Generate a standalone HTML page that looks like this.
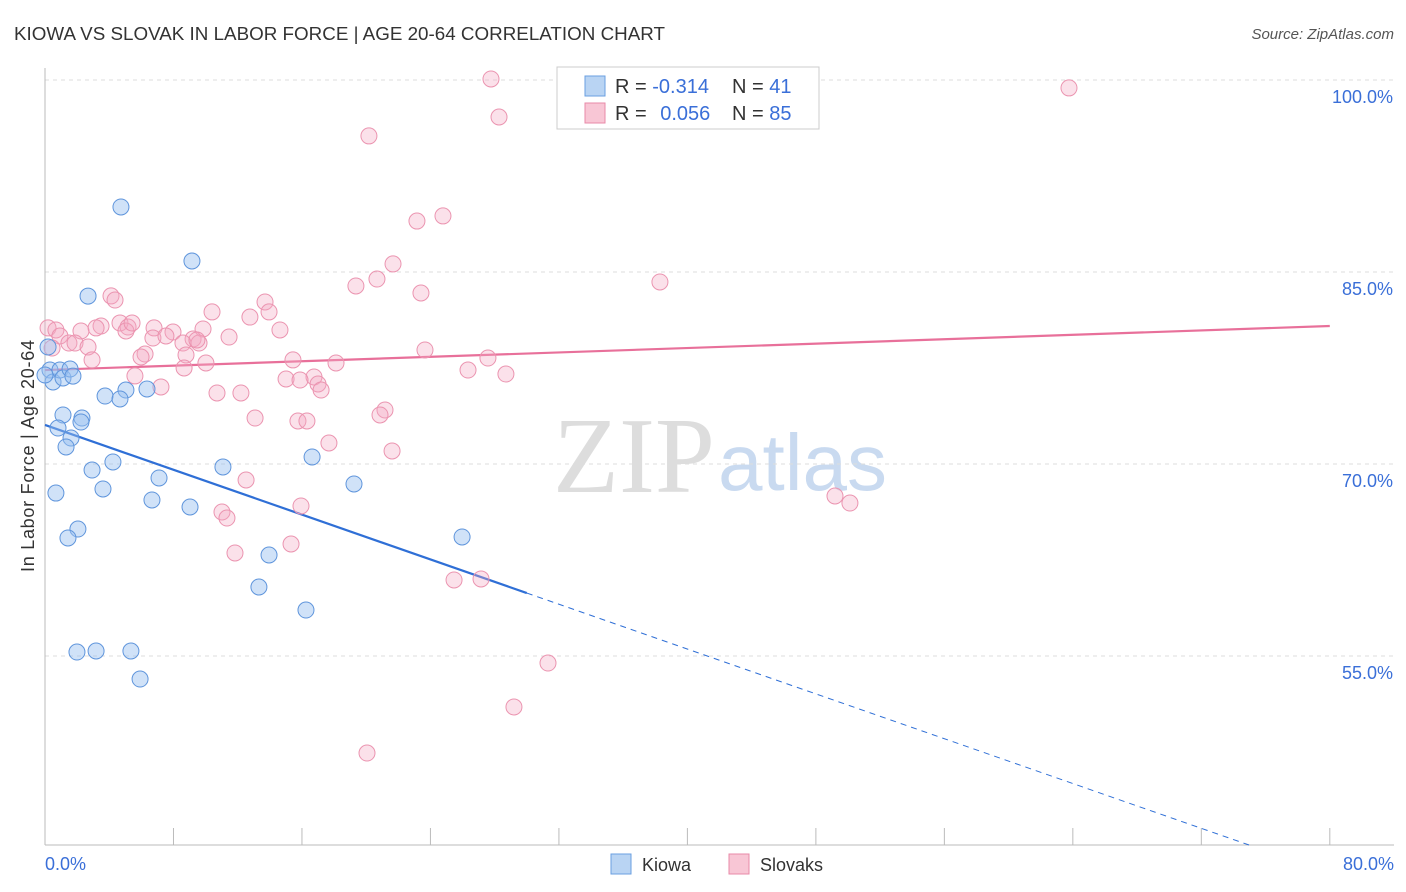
<!DOCTYPE html>
<html><head><meta charset="utf-8">
<style>
body{margin:0;background:#fff;font-family:"Liberation Sans",sans-serif;}
svg{display:block}
</style></head>
<body>
<svg id="chart" width="1406" height="892">
<text x="14" y="40" font-size="18" fill="#333" textLength="651" lengthAdjust="spacingAndGlyphs">KIOWA VS SLOVAK IN LABOR FORCE | AGE 20-64 CORRELATION CHART</text>
<text x="1394" y="39" font-size="15" fill="#555" font-style="italic" text-anchor="end">Source: ZipAtlas.com</text>
<text x="715" y="492" font-size="108" fill="#ddd" font-family="Liberation Serif,serif" text-anchor="end">ZIP</text>
<text x="718" y="490" font-size="80" fill="#c9daf0">atlas</text>
<text transform="translate(34,456) rotate(-90)" font-size="18" fill="#333" text-anchor="middle" textLength="232">In Labor Force | Age 20-64</text>
<g id="grid"></g><g id="axes"></g><g id="lines"></g><g id="pts"></g>
<g>
<rect x="557" y="67" width="262" height="62" fill="#fff" stroke="#ccc"/>
<rect x="585" y="76" width="20" height="20" fill="#b9d4f3" stroke="#6a9fe0"/>
<rect x="585" y="103" width="20" height="20" fill="#f8c6d5" stroke="#e88aa8"/>
<text x="615" y="93" font-size="20" fill="#333">R = <tspan fill="#3a6fd8">-0.314</tspan><tspan x="732">N = </tspan><tspan fill="#3a6fd8">41</tspan></text>
<text x="615" y="120" font-size="20" fill="#333">R = <tspan fill="#3a6fd8" dx="8">0.056</tspan><tspan x="732">N = </tspan><tspan fill="#3a6fd8">85</tspan></text>
</g>
<g>
<rect x="611" y="854" width="20" height="20" fill="#b9d4f3" stroke="#6a9fe0"/>
<text x="642" y="871" font-size="18" fill="#333">Kiowa</text>
<rect x="729" y="854" width="20" height="20" fill="#f8c6d5" stroke="#e88aa8"/>
<text x="760" y="871" font-size="18" fill="#333">Slovaks</text>
</g>
</svg>
<script>
const yTicks=[100,85,70,55];
const yTickLabels=["100.0%","85.0%","70.0%","55.0%"];
const xTickLabels=["0.0%","80.0%"];
const kiowaX=[4.73,9.15,2.68,0.19,0.31,0.50,0.93,1.12,1.56,1.74,1.12,2.30,2.24,0.81,1.62,1.31,3.74,5.04,4.67,6.35,2.93,4.23,7.10,3.61,0.68,6.66,9.03,11.08,16.63,19.24,2.05,1.43,25.97,13.95,13.32,16.25,1.99,3.18,5.35,5.92,0];
const kiowaY=[90.08,85.86,83.12,79.14,77.34,76.41,77.34,76.72,77.42,76.87,73.83,73.59,73.28,72.81,72.03,71.33,75.31,75.78,75.08,75.86,69.53,70.16,68.91,68.05,67.73,67.19,66.64,69.77,70.55,68.44,64.92,64.22,64.30,62.89,60.39,58.59,55.31,55.39,55.39,53.2,76.95];
const slovakX=[27.77,42.96,63.76,28.27,20.17,23.16,24.78,21.67,20.67,19.36,23.41,38.29,4.11,4.36,13.70,10.40,12.76,13.95,4.67,3.49,5.17,0.19,0.68,2.24,3.18,0.93,6.79,7.97,6.72,14.63,9.84,11.46,7.53,9.22,5.04,1.49,1.87,0.44,2.68,8.59,9.59,23.66,6.23,5.98,8.78,2.93,10.02,15.44,18.12,8.66,27.58,5.60,15.01,16.75,26.34,28.70,17.0,7.22,10.71,12.20,17.19,13.08,21.17,20.86,15.75,16.31,17.68,21.61,12.52,11.02,11.33,15.94,11.83,15.32,49.19,50.12,25.47,27.15,31.32,29.20,20.05,5.42,9.46,15.88];
const slovakY=[100.08,99.84,99.38,97.11,95.63,88.98,89.38,85.63,84.45,83.91,83.36,84.22,83.13,82.81,82.66,81.88,81.48,81.88,81.02,80.78,80.70,80.63,80.47,80.39,80.63,80.0,80.63,80.31,79.84,80.47,80.55,79.92,80.0,79.77,80.39,79.45,79.45,79.06,79.14,79.45,79.45,78.91,78.59,78.36,78.52,78.13,77.89,78.13,77.89,77.5,78.28,76.88,76.64,76.80,77.34,77.03,76.25,76.02,75.55,75.55,75.78,73.59,74.22,73.83,73.36,73.36,71.64,71.02,68.75,66.25,65.78,66.72,63.05,63.75,67.5,66.95,60.94,61.02,54.45,51.02,47.42,81.02,79.69,76.56];
const kiowaTrend=[73.05,-0.4377];
const slovakTrend=[77.34,0.043];
const NS="http://www.w3.org/2000/svg";
const X=v=>45+v*16.06, Y=v=>80+(100-v)*12.8;
function mk(parent,tag,attrs){const e=document.createElementNS(NS,tag);for(const k in attrs)e.setAttribute(k,attrs[k]);document.getElementById(parent).appendChild(e);return e;}
yTicks.forEach((t,i)=>{
 const l=mk('grid','line',{x1:45,x2:1394,y1:Y(t),y2:Y(t),stroke:'#ddd','stroke-dasharray':'4,4'});
 
 
 const tx=mk('grid','text',{x:1393,y:Y(t)+23,'font-size':18,fill:'#3a6fd8','text-anchor':'end'});
 tx.textContent=yTickLabels[i];
 
 
});
let a=mk('axes','line',{x1:45,x2:45,y1:68,y2:845,stroke:'#bbb'});

a=mk('axes','line',{x1:45,x2:1394,y1:845,y2:845,stroke:'#bbb'});

for(let i=0;i<=10;i++){const t=mk('axes','line',{x1:X(i*8),x2:X(i*8),y1:828,y2:845,stroke:'#bbb'});
 }
[[0,'start',45],[80,'end',1394]].forEach((d,i)=>{const t=mk('axes','text',{x:d[2],y:870,'font-size':18,fill:'#3a6fd8','text-anchor':d[1]});t.textContent=xTickLabels[i];
 });
let ln=mk('lines','line',{x1:X(0),y1:Y(slovakTrend[0]),x2:X(80),y2:Y(slovakTrend[0]+80*slovakTrend[1]),stroke:'#e8709a','stroke-width':2.2});

ln=mk('lines','line',{x1:X(0),y1:Y(kiowaTrend[0]),x2:X(30),y2:Y(kiowaTrend[0]+30*kiowaTrend[1]),stroke:'#2f6fd6','stroke-width':2.2});

const xEnd=(40.2-kiowaTrend[0])/kiowaTrend[1];
ln=mk('lines','line',{x1:X(30),y1:Y(kiowaTrend[0]+30*kiowaTrend[1]),x2:X(xEnd),y2:Y(40.2),stroke:'#2f6fd6','stroke-width':1,'stroke-dasharray':'6,5'});

slovakX.forEach((v,i)=>{const c=mk('pts','circle',{cx:X(v),cy:Y(slovakY[i]),r:8,fill:'rgba(244,170,195,0.35)',stroke:'#eb94b0','stroke-width':1});
 });
kiowaX.forEach((v,i)=>{const c=mk('pts','circle',{cx:X(v),cy:Y(kiowaY[i]),r:8,fill:'rgba(150,190,240,0.45)',stroke:'#5f95dc','stroke-width':1});
 });
</script>
</body></html>
